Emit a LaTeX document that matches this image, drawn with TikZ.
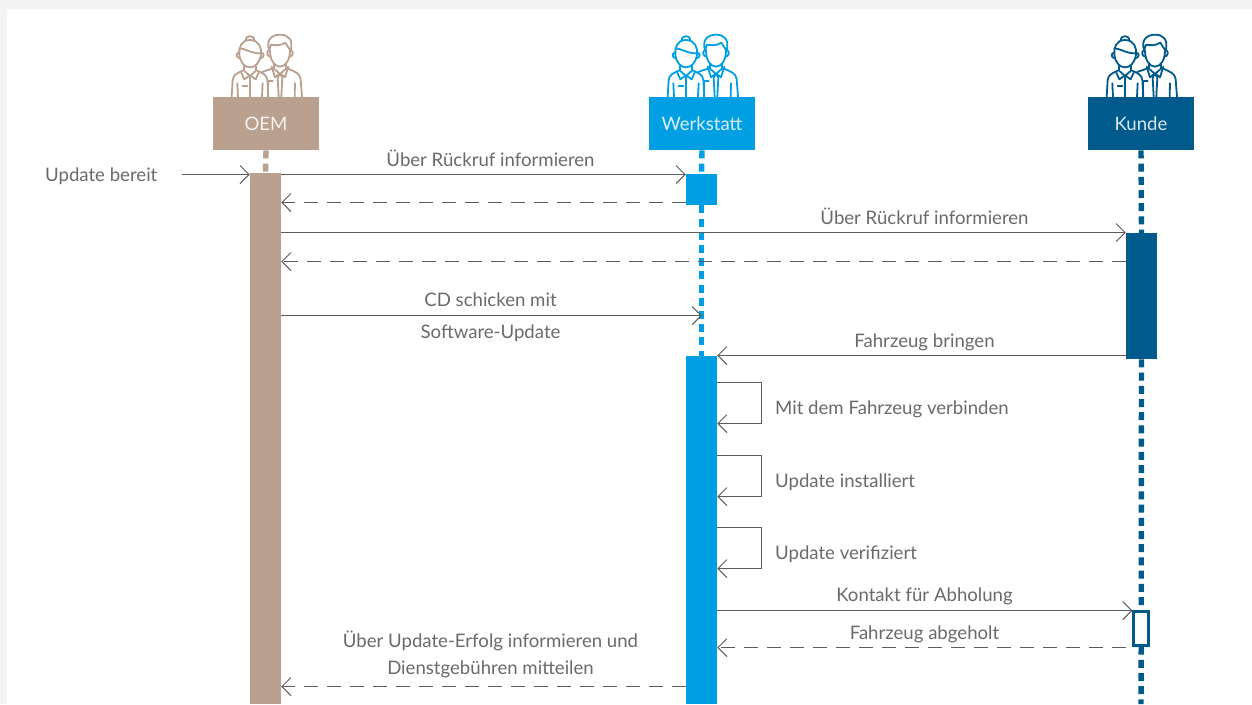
\documentclass[tikz,border=0pt]{standalone}
\usepackage{fontspec}
\setmainfont{Lato}
\usetikzlibrary{arrows.meta,calc}
\definecolor{oemc}{HTML}{B9A08F}
\definecolor{werkc}{HTML}{009FE3}
\definecolor{kundc}{HTML}{005A8C}
\definecolor{linec}{HTML}{5C5C5E}
\definecolor{txtc}{HTML}{6A6A6C}
\definecolor{pagec}{HTML}{F4F4F4}
\tikzset{
 txt/.style={font=\fontsize{18.6}{22}\selectfont,text=txtc,inner sep=0pt,anchor=base},
 txtl/.style={txt,anchor=base west},
 actor/.style={minimum width=106pt,minimum height=53pt,inner sep=0pt,anchor=north,font=\fontsize{18.6}{22}\selectfont,text=white!85!#1,fill=#1},
 bar/.style={fill=#1,inner sep=0pt,minimum width=31pt,anchor=north},
 life/.style={draw=#1,line width=5.4pt,dash pattern=on 8pt off 5.2pt},
 msg/.style={draw=linec,line width=1pt,-{Straight Barb[length=9pt,width=18pt,line width=1pt]}},
 ret/.style={msg,dash pattern=on 14pt off 9pt},
 staff/.pic={
  \begin{scope}[x=0.3333pt,y=-0.3333pt,line width=1.8pt,line cap=round,line join=round]
  % woman
  \draw (138,62) .. controls (134,44) and (166,44) .. (162,62);
  \draw (150,60) .. controls (122,60) and (116,85) .. (118,105) .. controls (122,130) and (135,142) .. (150,142) .. controls (165,142) and (178,130) .. (183,105) .. controls (186,85) and (178,60) .. (150,60);
  \draw (118,85) .. controls (135,85) and (155,102) .. (185,100);
  \draw (118,98) .. controls (106,98) and (108,114) .. (120,115);
  \draw (183,98) .. controls (195,98) and (193,114) .. (181,115);
  \draw (132,138) -- (132,152) -- (150,168) -- (168,152) -- (168,138);
  \draw (124,158) -- (133,178) -- (150,166) -- (167,178) -- (176,158);
  \draw (150,168) -- (150,230);
  \draw (128,152) .. controls (110,160) and (100,165) .. (98,180) -- (95,230);
  \draw (172,152) .. controls (190,160) and (200,165) .. (202,180) -- (205,230);
  \draw (112,190) -- (114,230);
  \draw (188,190) -- (186,230);
  \draw (128,197) -- (142,197);
  % man
  \draw (208,92) .. controls (196,60) and (216,44) .. (240,44) .. controls (266,44) and (280,60) .. (272,92) .. controls (266,86) and (262,76) .. (256,68) .. controls (242,78) and (222,76) .. (213,74) .. controls (210,80) and (209,86) .. (208,92);
  \draw (210,92) .. controls (210,118) and (222,140) .. (240,140) .. controls (258,140) and (270,118) .. (270,92);
  \draw (208,90) .. controls (198,92) and (200,110) .. (212,110);
  \draw (272,90) .. controls (282,92) and (280,110) .. (268,110);
  \draw (222,132) -- (222,146) -- (240,162) -- (258,146) -- (258,132);
  \draw (215,140) -- (225,172) -- (240,160) -- (255,172) -- (265,140);
  \draw (233,172) -- (240,162) -- (247,172) -- (244,230);
  \draw (233,172) -- (236,230);
  \draw (216,146) .. controls (205,150) and (195,152) .. (187,156);
  \draw (264,146) .. controls (285,155) and (300,160) .. (302,178) -- (306,230);
  \draw (285,190) -- (284,230);
  \draw (205,183) -- (218,183);
  \draw (205,185) -- (205,230);
  \end{scope}
 }
}
\begin{document}
\begin{tikzpicture}[x=1pt,y=-1pt]
\useasboundingbox (0,0) rectangle (1252,704);
\fill[pagec] (0,0) rectangle (1252,704);
\fill[white] (7,9) rectangle (1252,704);

% icons
\pic[color=oemc] at (200,20) {staff};
\pic[color=werkc] at (636,20) {staff};
\pic[color=kundc] at (1075,20) {staff};

% actors
\node[actor=oemc] (oem) at (266,97) {OEM};
\node[actor=werkc] (werk) at (702,97) {Werkstatt};
\node[actor=kundc] (kund) at (1141,97) {Kunde};

% activation bars
\node[bar=oemc,minimum height=531pt] (oembar) at (265.5,173) {};
\node[bar=werkc,minimum height=31pt] (werkA) at (701.5,174) {};
\node[bar=werkc,minimum height=348pt] (werkB) at (701.5,356) {};
\node[bar=kundc,minimum height=126pt] (kundA) at (1141.5,233) {};
\node[draw=kundc,fill=white,line width=2.6pt,inner sep=0pt,minimum width=15pt,minimum height=34pt,anchor=north] (kundB) at (1141.2,610) {};

% lifelines
\coordinate (kundEnd) at (1141,704);
\draw[life=oemc] (oem.south) -- (oembar.north);
\draw[life=werkc] (werk.south) -- (werkA.north);
\draw[life=werkc] (werkA.south) -- (werkB.north);
\draw[life=kundc] (kund.south) -- (kundA.north);
\draw[life=kundc] (kundA.south) -- (kundB.north);
\draw[life=kundc] (kundB.south) -- (kundEnd);

% messages
\node[txt,anchor=base west] (upd) at (45,181) {Update bereit};
\coordinate (updEnd) at (182,174.6);
\draw[msg] (updEnd) -- (oembar.west |- updEnd);

\node[txt] (m1) at (490.5,166) {Über Rückruf informieren};
\draw[msg] (oembar.east |- 0,174.6) -- (werkA.west |- 0,174.6);
\draw[ret] (werkA.west |- 0,202.6) -- (oembar.east |- 0,202.6);

\node[txt] (m2) at (924.5,224) {Über Rückruf informieren};
\draw[msg] (oembar.east |- 0,232.6) -- (kundA.west |- 0,232.6);
\draw[ret] (kundA.west |- 0,261.6) -- (oembar.east |- 0,261.6);

\node[txt] (m3) at (490.5,306) {CD schicken mit};
\node[txt] (m3b) at (490.5,338) {Software-Update};
\draw[msg] (oembar.east |- 0,315.6) -- (werk.south |- 0,315.6);

\node[txt] (m4) at (924.5,347) {Fahrzeug bringen};
\draw[msg] (kundA.west |- 0,355.6) -- (werkB.east |- 0,355.6);

\node[txtl] (l1) at (775,414) {Mit dem Fahrzeug verbinden};
\draw[msg] (werkB.east |- 0,382.6) -| (761,423.6) -- (werkB.east |- 0,423.6);
\node[txtl] (l2) at (775,487) {Update installiert};
\draw[msg] (werkB.east |- 0,455.6) -| (761,496.6) -- (werkB.east |- 0,496.6);
\node[txtl] (l3) at (775,559) {Update verifiziert};
\draw[msg] (werkB.east |- 0,527.6) -| (761,568.6) -- (werkB.east |- 0,568.6);

\node[txt] (m5) at (924.5,601) {Kontakt für Abholung};
\draw[msg] (werkB.east |- 0,610.6) -- (kundB.west |- 0,610.6);
\node[txt] (m6) at (924.5,639) {Fahrzeug abgeholt};
\draw[ret] (kundA.west |- 0,647.6) -- (werkB.east |- 0,647.6);

\node[txt] (m7) at (490.5,647) {Über Update-Erfolg informieren und};
\node[txt] (m7b) at (490.5,674) {Dienstgebühren mitteilen};
\draw[ret] (werkB.west |- 0,686.6) -- (oembar.east |- 0,686.6);
\end{tikzpicture}
\end{document}
